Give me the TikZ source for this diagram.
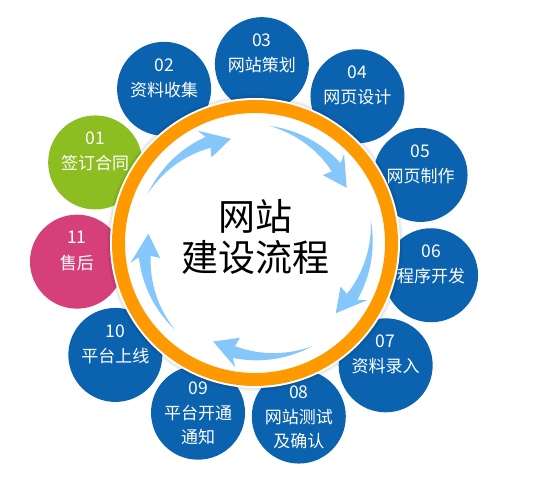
\documentclass[tikz,border=0pt]{standalone}
\usepackage{fontspec}
\newfontfamily\cjk{Noto Sans CJK SC}
\definecolor{cblue}{HTML}{0B62AF}
\definecolor{cgreen}{HTML}{8CBE22}
\definecolor{cpink}{HTML}{D6407A}
\definecolor{corange}{HTML}{FF9900}
\definecolor{arrblue}{HTML}{85C7FB}
\begin{document}
\begin{tikzpicture}[x=1pt,y=1pt,
  stepcirc/.style={circle,minimum size=94pt,inner sep=0pt,draw=none},
  numtxt/.style={text=white,inner sep=0pt,font=\cjk\fontsize{17.5}{17.5}\selectfont},
  labtxt/.style={text=white,inner sep=0pt,align=center,font=\cjk\fontsize{17}{23.5}\selectfont},
  titletxt/.style={text=black,inner sep=0pt,font=\cjk\fontsize{37}{37}\selectfont}]
\useasboundingbox (0,0) rectangle (543,495);
\coordinate (C) at (255,252);
% step circles
\foreach \i/\col in {1/cgreen,2/cblue,3/cblue,4/cblue,5/cblue,6/cblue,7/cblue,8/cblue,9/cblue,10/cblue,11/cpink}{
  \node[stepcirc,fill=\col] (c\i) at ([shift={({87.8-32.727*(\i-3)}:179)}]C) {};
}
% ring shadow, white border, orange ring
\fill[black,opacity=0.05] (C) circle[radius=148];
\fill[black,opacity=0.05] (C) circle[radius=146.5];
\fill[white] (C) circle[radius=145];
\draw[corange,line width=13pt] (C) circle[radius=136.5];
% arrows
\begin{scope}[shift={(C)}]
\foreach \a in {155,83,11,-61,-133}{
  \fill[arrblue] plot[domain=0:1,samples=30] ({\a-40*\x}:{118-7*\x+6*\x})
    -- ({\a-38}:{126}) -- ({\a-52}:{107}) -- ({\a-38}:{96}) -- ({\a-40}:{105})
    -- plot[domain=1:0,samples=30] ({\a-40*\x}:{118-7*\x-6*\x}) -- cycle;
}
\end{scope}
% title
\node[titletxt] (title1) at (255,279) {网站};
\node[titletxt] (title2) at (255,238) {建设流程};
% labels
\foreach \i/\n/\dy/\t in {1/01/-1/签订合同,2/02/-1/资料收集,3/03/-1/网站策划,4/04/-1/网页设计,5/05/-1/网页制作,6/06/-1/程序开发,7/07/-1/资料录入,8/08/-12.5/{网站测试\\及确认},9/09/-12.5/{平台开通\\通知},10/10/-1/平台上线,11/11/-1/售后}{
  \node[numtxt] (n\i) at ([yshift=24pt]c\i.center) {\n};
  \node[labtxt] (t\i) at ([yshift=\dy pt]c\i.center) {\t};
}
\end{tikzpicture}
\end{document}
